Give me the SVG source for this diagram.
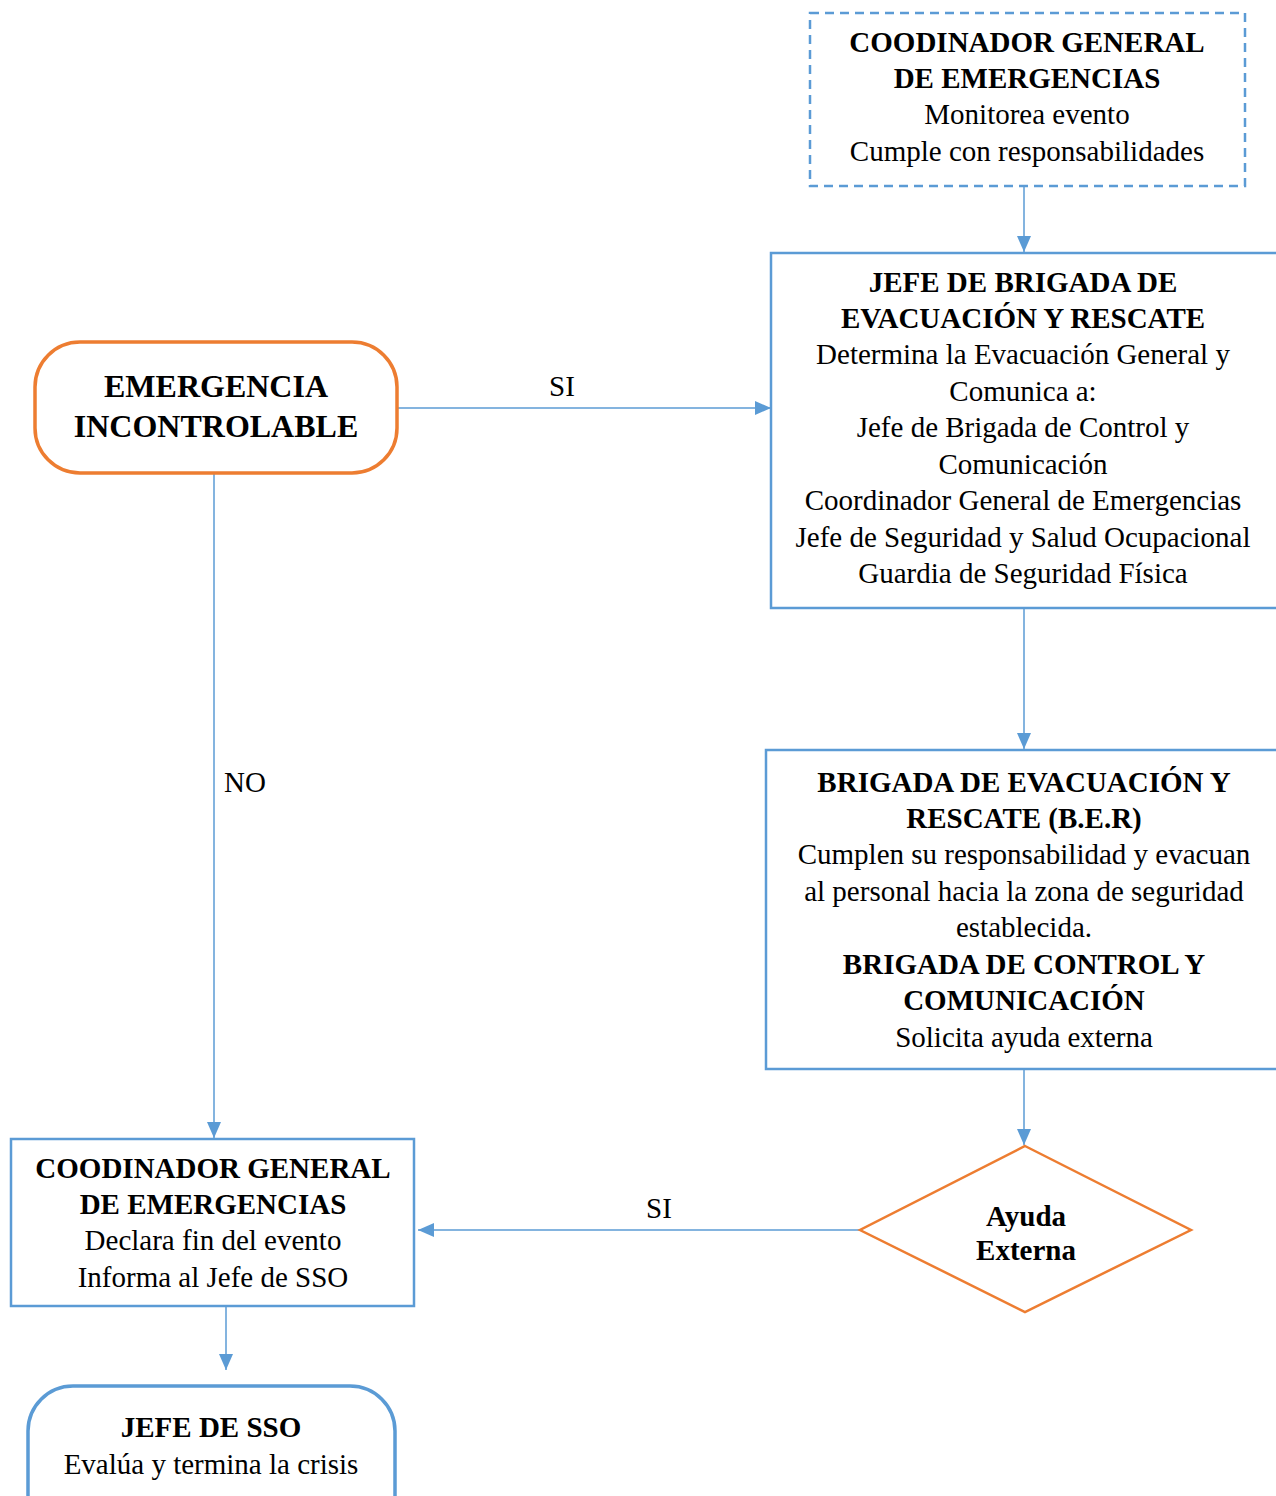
<svg xmlns="http://www.w3.org/2000/svg" width="1276" height="1496" viewBox="0 0 1276 1496">
<defs>
<style>
.t{font-family:"Liberation Serif","Times New Roman",serif;font-size:29px;fill:#000;text-anchor:middle}
.b{font-weight:bold}
.big{font-size:32px;font-weight:bold}
.box{fill:#fff;stroke:#5B9BD5;stroke-width:2.5}
.ora{fill:#fff;stroke:#ED7D31;stroke-width:3.5}
.con{stroke:#5B9BD5;stroke-width:1.5;fill:none}
</style>
<marker id="ah2" viewBox="0 0 16 14" refX="16" refY="7" markerWidth="16" markerHeight="14" markerUnits="userSpaceOnUse" orient="auto"><path d="M0,0 L16,7 L0,14 z" fill="#5B9BD5"/></marker>
</defs>
<rect width="1276" height="1496" fill="#fff"/>
<g id="connectors">
<line class="con" x1="1024" y1="186" x2="1024" y2="252" marker-end="url(#ah2)"/>
<line class="con" x1="397" y1="408" x2="771" y2="408" marker-end="url(#ah2)"/>
<line class="con" x1="214" y1="473" x2="214" y2="1138" marker-end="url(#ah2)"/>
<line class="con" x1="1024" y1="608" x2="1024" y2="749" marker-end="url(#ah2)"/>
<line class="con" x1="1024" y1="1069" x2="1024" y2="1145" marker-end="url(#ah2)"/>
<line class="con" x1="860" y1="1230" x2="418" y2="1230" marker-end="url(#ah2)"/>
<line class="con" x1="226" y1="1306" x2="226" y2="1370" marker-end="url(#ah2)"/>
<text class="t" x="562" y="396">SI</text>
<text class="t" x="245" y="792">NO</text>
<text class="t" x="659" y="1218">SI</text>
</g>
<g id="coord-top">
<rect x="810" y="13" width="435" height="173" fill="#fff" stroke="#5B9BD5" stroke-width="2.5" stroke-dasharray="9,6"/>
<text class="t b" x="1027" y="52">COODINADOR GENERAL</text>
<text class="t b" x="1027" y="88">DE EMERGENCIAS</text>
<text class="t" x="1027" y="124">Monitorea evento</text>
<text class="t" x="1027" y="161">Cumple con responsabilidades</text>
</g>
<g id="jefe-brigada">
<rect class="box" x="771" y="253" width="507" height="355"/>
<text class="t b" x="1023" y="292">JEFE DE BRIGADA DE</text>
<text class="t b" x="1023" y="328">EVACUACIÓN Y RESCATE</text>
<text class="t" x="1023" y="364">Determina la Evacuación General y</text>
<text class="t" x="1023" y="401">Comunica a:</text>
<text class="t" x="1023" y="437">Jefe de Brigada de Control y</text>
<text class="t" x="1023" y="474">Comunicación</text>
<text class="t" x="1023" y="510">Coordinador General de Emergencias</text>
<text class="t" x="1023" y="547">Jefe de Seguridad y Salud Ocupacional</text>
<text class="t" x="1023" y="583">Guardia de Seguridad Física</text>
</g>
<g id="emergencia">
<rect class="ora" x="35" y="342" width="362" height="131" rx="45" ry="45"/>
<text class="t big" x="216" y="397">EMERGENCIA</text>
<text class="t big" x="216" y="437">INCONTROLABLE</text>
</g>
<g id="brigada">
<rect class="box" x="766" y="750" width="512" height="319"/>
<text class="t b" x="1024" y="792">BRIGADA DE EVACUACIÓN Y</text>
<text class="t b" x="1024" y="828">RESCATE (B.E.R)</text>
<text class="t" x="1024" y="864">Cumplen su responsabilidad y evacuan</text>
<text class="t" x="1024" y="901">al personal hacia la zona de seguridad</text>
<text class="t" x="1024" y="937">establecida.</text>
<text class="t b" x="1024" y="974">BRIGADA DE CONTROL Y</text>
<text class="t b" x="1024" y="1010">COMUNICACIÓN</text>
<text class="t" x="1024" y="1047">Solicita ayuda externa</text>
</g>
<g id="ayuda">
<polygon points="1025,1146 1191,1230 1025,1312 860,1230" fill="#fff" stroke="#ED7D31" stroke-width="2.5"/>
<text class="t b" x="1026" y="1226">Ayuda</text>
<text class="t b" x="1026" y="1260">Externa</text>
</g>
<g id="coord-bottom">
<rect class="box" x="11" y="1139" width="403" height="167"/>
<text class="t b" x="213" y="1178">COODINADOR GENERAL</text>
<text class="t b" x="213" y="1214">DE EMERGENCIAS</text>
<text class="t" x="213" y="1250">Declara fin del evento</text>
<text class="t" x="213" y="1287">Informa al Jefe de SSO</text>
</g>
<g id="jefe-sso">
<rect x="28" y="1386" width="367" height="160" rx="45" ry="45" fill="#fff" stroke="#5B9BD5" stroke-width="3.5"/>
<text class="t b" x="211" y="1437">JEFE DE SSO</text>
<text class="t" x="211" y="1474">Evalúa y termina la crisis</text>
</g>
</svg>
